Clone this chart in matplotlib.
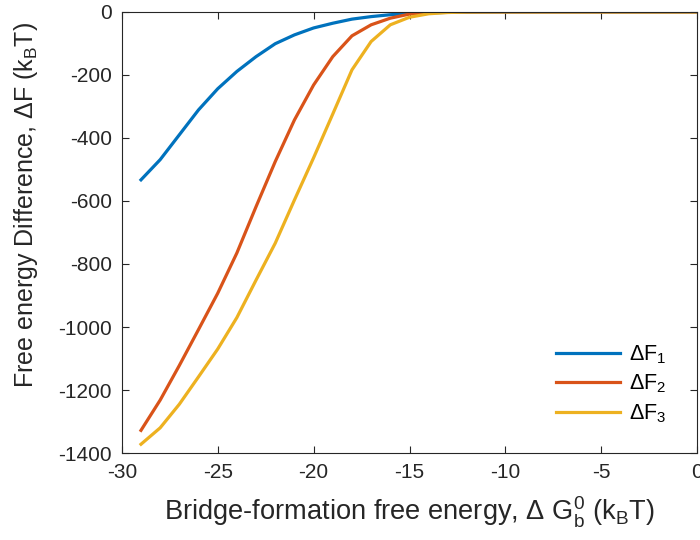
import matplotlib
matplotlib.use("Agg")
import matplotlib.pyplot as plt
import numpy as np

plt.rcParams['font.family'] = ['Liberation Sans', 'DejaVu Sans']
plt.rcParams['mathtext.fontset'] = 'custom'
plt.rcParams['mathtext.rm'] = 'Liberation Sans'
plt.rcParams['mathtext.it'] = 'Liberation Sans:italic'
plt.rcParams['mathtext.bf'] = 'Liberation Sans:bold'
plt.rcParams['axes.unicode_minus'] = False

dG = list(range(-29, 1))
dF1 = [-533, -469, -390, -311, -244, -189, -142, -101, -73, -51,
       -36, -23, -15, -9, -5, -3, -1.5, -0.8, -0.4, -0.2,
       -0.1, 0, 0, 0, 0, 0, 0, 0, 0, 0]
dF2 = [-1328, -1232, -1122, -1008, -893, -765, -618, -475, -343, -232,
       -142, -76, -41, -20, -7, -2, -0.5, -0.2, 0, 0,
       0, 0, 0, 0, 0, 0, 0, 0, 0, 0]
dF3 = [-1372, -1320, -1245, -1158, -1070, -970, -851, -734, -597, -463,
       -324, -184, -94, -41, -17, -6, -2, -0.5, -0.2, 0,
       0, 0, 0, 0, 0, 0, 0, 0, 0, 0]
labels = [r'$\Delta$F$_\mathrm{1}$', r'$\Delta$F$_\mathrm{2}$', r'$\Delta$F$_\mathrm{3}$']
colors = ['#0072BD', '#D95319', '#EDB120']

fig = plt.figure(figsize=(7, 5.4), dpi=100)
ax = fig.add_axes([0.174, 0.161, 0.822, 0.817])
for y, lab, c in zip([dF1, dF2, dF3], labels, colors):
    ax.plot(dG, y, color=c, lw=2.3, label=lab)

ax.set_xlim(-30, 0)
ax.set_ylim(-1400, 0)
ax.set_xticks(np.arange(-30, 1, 5))
ax.set_yticks(np.arange(-1400, 1, 200))
ax.tick_params(direction='in', top=True, right=True, length=5, width=0.8,
               labelsize=15, colors='#262626', pad=7)
for s in ax.spines.values():
    s.set_color('#262626')
    s.set_linewidth(0.8)

ax.set_xlabel(r'Bridge-formation free energy, $\Delta$ G$_\mathrm{b}^\mathrm{0}$ (k$_\mathrm{B}$T)',
              fontsize=19.6, color='#262626', labelpad=9)
ax.set_ylabel(r'Free energy Difference, $\Delta$F (k$_\mathrm{B}$T)',
              fontsize=18, color='#262626')
ax.yaxis.set_label_coords(-0.143, 0.562)

leg = ax.legend(loc='lower right', frameon=False, fontsize=15.5, handlelength=3.0,
                handletextpad=0.4, labelspacing=0.32, bbox_to_anchor=(0.98, 0.02))

fig.savefig('out.png', dpi=100)
